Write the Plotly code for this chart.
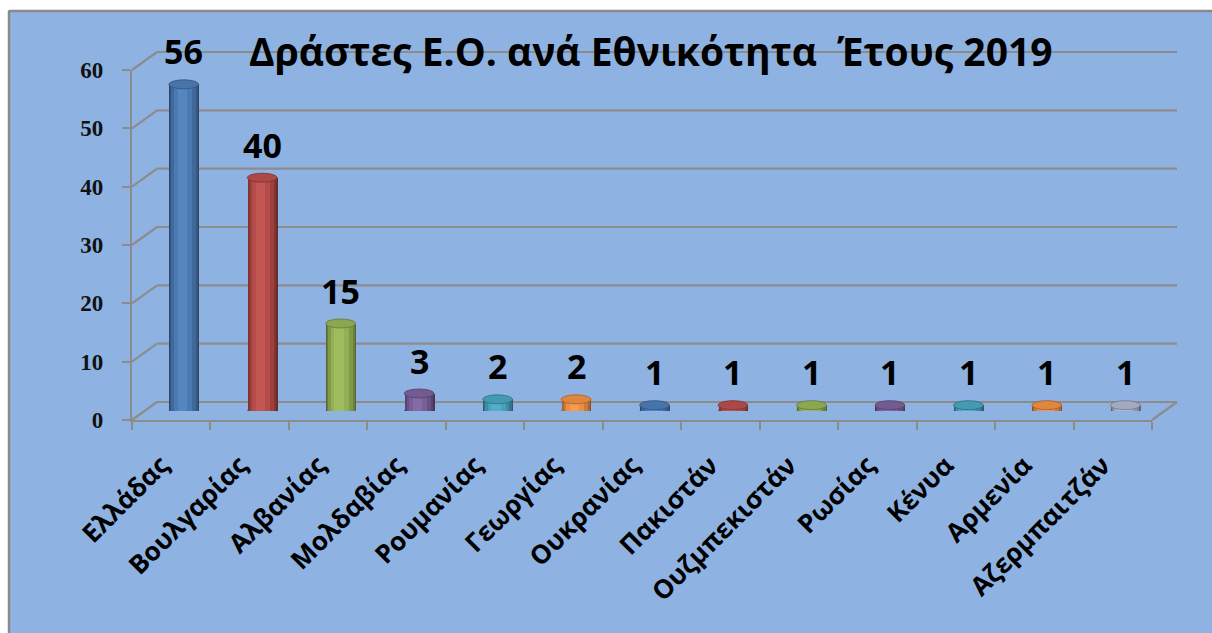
import plotly.graph_objects as go

# Offenders by nationality, 2019
countries = ["Ελλάδας", "Βουλγαρίας", "Αλβανίας", "Μολδαβίας", "Ρουμανίας", "Γεωργίας",
             "Ουκρανίας", "Πακιστάν", "Ουζμπεκιστάν", "Ρωσίας", "Κένυα", "Αρμενία", "Αζερμπαιτζάν"]
offenders = [56, 40, 15, 3, 2, 2, 1, 1, 1, 1, 1, 1, 1]
y_ticks = [0, 10, 20, 30, 40, 50, 60]
title_text = "Δράστες Ε.Ο. ανά Εθνικότητα  Έτους 2019"

# Excel-style varied point colours
palette = ["#4F81BD", "#C0504D", "#9BBB59", "#8064A2", "#4BACC6", "#F79646",
           "#4F81BD", "#C0504D", "#9BBB59", "#8064A2", "#4BACC6", "#F79646", "#B4BCD6"]

W, H = 1212, 633
BG = "#8EB3E3"
GRID = "#8C8C8C"

# pseudo-3D geometry (pixels)
FX0, FX1 = 132, 1152          # front floor edge
FY0, FYTOP = 420, 70          # front y of value 0 and of value 60
DX, DY = 25, -18              # depth offset of the back wall
YMAX = 60
CAP_PX = 4.5                  # half height of cylinder ellipses
LABEL_SHIFT = 10              # category labels sit slightly left of the tick centres


def dom_x(a, b):
    return [a / W, b / W]


def dom_y(top, bottom):
    return [1 - bottom / H, 1 - top / H]


def py(v):
    return FY0 - v * (FY0 - FYTOP) / YMAX


def hex_rgb(h):
    h = h.lstrip("#")
    return tuple(int(h[i:i + 2], 16) for i in (0, 2, 4))


def shade(h, f):
    r, g, b = hex_rgb(h)
    if f < 1:
        return "rgb(%d,%d,%d)" % (r * f, g * f, b * f)
    t = f - 1
    return "rgb(%d,%d,%d)" % (r + (255 - r) * t, g + (255 - g) * t, b + (255 - b) * t)


fig = go.Figure()

# back wall gridlines, left wall diagonals and floor edges in pixel space (x2/y2)
gx, gy = [], []
for t in y_ticks:
    gx += [FX0 + DX, FX1 + DX, None, FX0, FX0 + DX, None]
    gy += [py(t) + DY, py(t) + DY, None, py(t), py(t) + DY, None]
gx += [FX1, FX1 + DX, None]
gy += [py(0), py(0) + DY, None]
fig.add_trace(go.Scatter(x=gx, y=gy, mode="lines", xaxis="x2", yaxis="y2",
                         line=dict(color=GRID, width=2.2), hoverinfo="skip", showlegend=False))

# invisible carriers so the category axes are populated
for xa in ("x", "x4"):
    fig.add_trace(go.Scatter(x=countries, y=[0] * len(countries), mode="markers",
                             marker=dict(opacity=0), xaxis=xa, yaxis="y",
                             hoverinfo="skip", showlegend=False))

# cylinders: stacked overlay bars with narrowing widths give a rounded shading
layers = [(0.38, 0.0, 0.55), (0.355, -0.004, 0.68), (0.31, -0.01, 0.82),
          (0.23, -0.018, 0.95), (0.12, -0.025, 1.04)]
for w, off, f in layers:
    fig.add_trace(go.Bar(
        x=list(range(len(countries))), y=offenders, width=w,
        offset=[-w / 2 + off] * len(countries),
        marker=dict(color=[shade(c, f) for c in palette], line=dict(width=0)),
        xaxis="x3", yaxis="y3", hoverinfo="skip", showlegend=False))

unit_px = (FY0 - FYTOP) / YMAX
cap = CAP_PX / unit_px
shapes = []
for i, (v, c) in enumerate(zip(offenders, palette)):
    # rounded base
    shapes.append(dict(type="circle", xref="x3", yref="y3", layer="below",
                       x0=i - 0.19, x1=i + 0.19, y0=-cap, y1=cap,
                       fillcolor=shade(c, 0.7), line=dict(width=0)))
    # top cap
    shapes.append(dict(type="circle", xref="x3", yref="y3", layer="above",
                       x0=i - 0.19, x1=i + 0.19, y0=v - cap, y1=v + cap,
                       fillcolor=shade(c, 0.9), line=dict(color=shade(c, 0.65), width=0.8)))

# outer frame: white margin strips and grey border on the top and left
shapes += [
    dict(type="rect", xref="paper", yref="paper", x0=0, x1=1, y0=1 - 10 / H, y1=1,
         fillcolor="white", line=dict(width=0), layer="below"),
    dict(type="rect", xref="paper", yref="paper", x0=0, x1=8 / W, y0=0, y1=1,
         fillcolor="white", line=dict(width=0), layer="below"),
    dict(type="line", xref="paper", yref="paper", x0=9 / W, x1=1, y0=1 - 11 / H, y1=1 - 11 / H,
         line=dict(color="#8A8A8A", width=2.5)),
    dict(type="line", xref="paper", yref="paper", x0=9 / W, x1=9 / W, y0=0, y1=1 - 11 / H,
         line=dict(color="#8A8A8A", width=2.5)),
]

annotations = []
for i, v in enumerate(offenders):
    annotations.append(dict(x=i, y=v, xref="x3", yref="y3", text=str(v), showarrow=False,
                            yshift=33, font=dict(family="Open Sans", size=34, color="black",
                                                 weight="bold")))
annotations.append(dict(x=651 / W, y=1 - 50 / H, xref="paper", yref="paper", text=title_text,
                        showarrow=False, xanchor="center", yanchor="middle",
                        font=dict(family="Open Sans", size=39, color="black", weight="bold")))

hidden = dict(visible=False, showgrid=False, zeroline=False, automargin=False)

fig.update_layout(
    width=W, height=H,
    margin=dict(l=0, r=0, t=0, b=0, autoexpand=False),
    paper_bgcolor=BG, plot_bgcolor="rgba(0,0,0,0)",
    barmode="overlay", bargap=0,
    shapes=shapes, annotations=annotations,
    # front floor edge with boundary ticks
    xaxis=dict(domain=dom_x(FX0, FX1), anchor="y", type="category", automargin=False,
               range=[-0.5, len(countries) - 0.5], tickson="boundaries",
               showline=True, linecolor=GRID, linewidth=2.2,
               ticks="outside", ticklen=8, tickwidth=2.2, tickcolor=GRID,
               showticklabels=False, showgrid=False, zeroline=False),
    # rotated category labels
    xaxis4=dict(domain=dom_x(FX0 - LABEL_SHIFT, FX1 - LABEL_SHIFT), anchor="y",
                type="category", automargin=False, range=[-0.5, len(countries) - 0.5],
                showline=False, ticks="", ticklabelstandoff=24, tickangle=-45,
                showgrid=False, zeroline=False,
                tickfont=dict(family="Open Sans", size=26, color="black", weight="bold")),
    yaxis=dict(domain=dom_y(FYTOP, FY0), anchor="x", range=[0, YMAX], automargin=False,
               tickvals=y_ticks, showline=True, linecolor=GRID, linewidth=2.2,
               ticks="outside", ticklen=8, tickwidth=2.2, tickcolor=GRID,
               ticklabelstandoff=14, showgrid=False, zeroline=False,
               tickfont=dict(family="Liberation Serif", size=23, color="#111111",
                             weight="bold")),
    xaxis2=dict(domain=[0, 1], anchor="y2", range=[0, W], **hidden),
    yaxis2=dict(domain=[0, 1], anchor="x2", range=[H, 0], **hidden),
    xaxis3=dict(domain=dom_x(FX0 + DX / 2, FX1 + DX / 2), anchor="y3",
                range=[-0.5, len(countries) - 0.5], **hidden),
    yaxis3=dict(domain=dom_y(FYTOP + DY / 2, FY0 + DY / 2), anchor="x3",
                range=[0, YMAX], **hidden),
)

fig.write_html("out.html")
